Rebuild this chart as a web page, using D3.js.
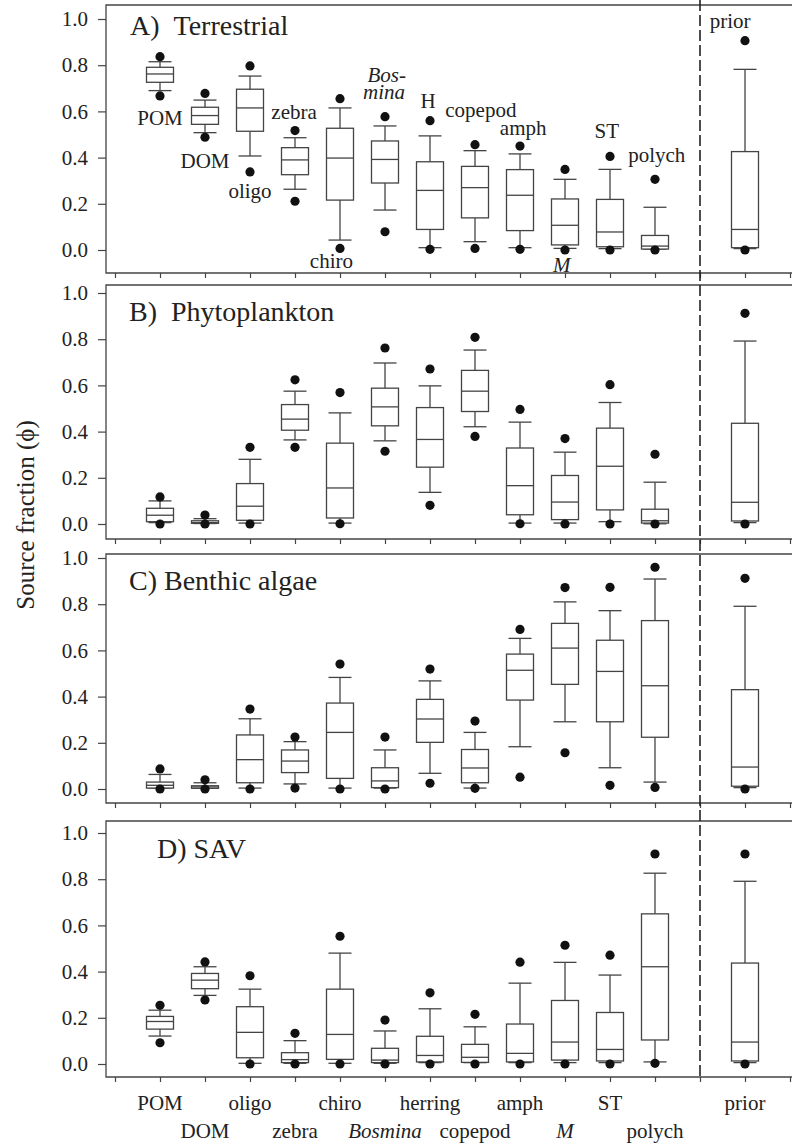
<!DOCTYPE html>
<html>
<head>
<meta charset="utf-8">
<script src="https://cdn.jsdelivr.net/npm/d3@7"></script>
<style>
    body { margin: 0; background: #fff; }
    svg text { font-family: "Liberation Serif", "Times New Roman", serif; fill: #222; }
    .axes path { display: none; }
    .axes line { stroke: #444; stroke-width: 1.2px; }
    .axes text { font-size: 21px; font-family: "Liberation Serif", "Times New Roman", serif; fill: #222; }
</style>
</head>
<body>
<svg id="chart" width="792" height="1144"></svg>
<script>

// categories along x (index 1..12 consumers / sources, prior at 14)
var taxa = ["POM", "DOM", "oligo", "zebra", "chiro", "Bosmina", "herring", "copepod", "amph", "M", "ST", "polych", "prior"];
var taxaPos = [1, 2, 3, 4, 5, 6, 7, 8, 9, 10, 11, 12, 14];
var italicTaxa = ["Bosmina", "M"];
var yTicks = [0, 0.2, 0.4, 0.6, 0.8, 1.0];

// each row: [p5, p10, q1, median, q3, p90, p95]
var terrestrial = [
    [0.667, 0.690, 0.726, 0.762, 0.791, 0.815, 0.837],
    [0.488, 0.508, 0.544, 0.582, 0.618, 0.649, 0.678],
    [0.338, 0.407, 0.514, 0.615, 0.696, 0.753, 0.797],
    [0.211, 0.263, 0.326, 0.390, 0.443, 0.486, 0.517],
    [0.007, 0.043, 0.216, 0.398, 0.527, 0.615, 0.655],
    [0.079, 0.173, 0.290, 0.392, 0.472, 0.537, 0.577],
    [0.003, 0.010, 0.089, 0.258, 0.382, 0.494, 0.560],
    [0.007, 0.036, 0.139, 0.270, 0.362, 0.430, 0.456],
    [0.003, 0.010, 0.084, 0.237, 0.348, 0.416, 0.450],
    [0.000, 0.007, 0.022, 0.107, 0.221, 0.306, 0.349],
    [0.000, 0.006, 0.014, 0.078, 0.219, 0.349, 0.405],
    [0.000, 0.004, 0.004, 0.017, 0.063, 0.185, 0.306],
    [0.000, 0.006, 0.010, 0.089, 0.426, 0.782, 0.906]
];
var phytoplankton = [
    [0.000, 0.006, 0.010, 0.038, 0.068, 0.100, 0.117],
    [0.000, 0.002, 0.003, 0.006, 0.014, 0.023, 0.039],
    [0.000, 0.004, 0.016, 0.077, 0.175, 0.280, 0.332],
    [0.332, 0.364, 0.406, 0.454, 0.517, 0.575, 0.624],
    [0.001, 0.004, 0.026, 0.156, 0.350, 0.481, 0.569],
    [0.315, 0.360, 0.425, 0.507, 0.588, 0.697, 0.762],
    [0.081, 0.137, 0.246, 0.366, 0.504, 0.598, 0.671],
    [0.379, 0.421, 0.487, 0.575, 0.665, 0.753, 0.808],
    [0.001, 0.004, 0.040, 0.166, 0.329, 0.441, 0.496],
    [0.000, 0.004, 0.019, 0.095, 0.210, 0.311, 0.370],
    [0.000, 0.010, 0.061, 0.250, 0.415, 0.526, 0.603],
    [0.000, 0.001, 0.004, 0.014, 0.064, 0.181, 0.302],
    [0.000, 0.006, 0.013, 0.094, 0.436, 0.792, 0.912]
];
var benthic = [
    [0.000, 0.004, 0.004, 0.016, 0.030, 0.063, 0.087],
    [0.000, 0.003, 0.003, 0.009, 0.014, 0.027, 0.040],
    [0.000, 0.004, 0.027, 0.127, 0.234, 0.304, 0.346],
    [0.004, 0.022, 0.071, 0.121, 0.169, 0.205, 0.225],
    [0.000, 0.004, 0.046, 0.245, 0.372, 0.483, 0.541],
    [0.000, 0.004, 0.006, 0.035, 0.092, 0.169, 0.225],
    [0.025, 0.068, 0.202, 0.303, 0.388, 0.468, 0.519],
    [0.003, 0.004, 0.027, 0.091, 0.171, 0.245, 0.294],
    [0.051, 0.183, 0.385, 0.514, 0.584, 0.652, 0.691],
    [0.157, 0.291, 0.453, 0.610, 0.717, 0.810, 0.872],
    [0.016, 0.092, 0.291, 0.509, 0.644, 0.772, 0.873],
    [0.007, 0.030, 0.224, 0.447, 0.729, 0.909, 0.960],
    [0.000, 0.006, 0.012, 0.095, 0.430, 0.791, 0.912]
];
var sav = [
    [0.092, 0.121, 0.151, 0.184, 0.206, 0.233, 0.254],
    [0.277, 0.297, 0.326, 0.363, 0.392, 0.421, 0.442],
    [0.000, 0.003, 0.027, 0.137, 0.248, 0.324, 0.382],
    [0.000, 0.003, 0.006, 0.019, 0.049, 0.101, 0.133],
    [0.000, 0.003, 0.020, 0.128, 0.324, 0.480, 0.553],
    [0.000, 0.003, 0.006, 0.017, 0.068, 0.143, 0.190],
    [0.000, 0.006, 0.009, 0.037, 0.120, 0.239, 0.308],
    [0.000, 0.006, 0.007, 0.029, 0.085, 0.161, 0.215],
    [0.000, 0.006, 0.009, 0.046, 0.173, 0.350, 0.441],
    [0.000, 0.006, 0.017, 0.095, 0.275, 0.440, 0.514],
    [0.000, 0.006, 0.013, 0.063, 0.223, 0.385, 0.471],
    [0.003, 0.009, 0.104, 0.421, 0.650, 0.826, 0.909],
    [0.000, 0.006, 0.013, 0.095, 0.437, 0.791, 0.909]
];

var panelTitles = ["A)\u00a0\u00a0Terrestrial", "B)\u00a0\u00a0Phytoplankton", "C) Benthic algae", "D) SAV"];
var panelData = [terrestrial, phytoplankton, benthic, sav];

// in-panel labels of panel A: [text, x (category units), y (fraction), italic]
var panelALabels = [
    ["POM", 1, 0.541, false],
    ["DOM", 2, 0.355, false],
    ["oligo", 3, 0.225, false],
    ["zebra", 3.98, 0.567, false],
    ["chiro", 4.81, -0.078, false],
    ["Bos-", 6.04, 0.728, true],
    ["mina", 5.98, 0.655, true],
    ["H", 6.96, 0.615, false],
    ["copepod", 8.13, 0.576, false],
    ["amph", 9.07, 0.498, false],
    ["M", 9.93, -0.095, true],
    ["ST", 10.93, 0.485, false],
    ["polych", 12.04, 0.381, false],
    ["prior", 13.67, 0.961, false]
];

// panel geometry (frame top/bottom, pixel of 1.0 and 0.0, title placement)
var panels = [
    {top: 5,   bottom: 273,  y1: 19,  y0: 250,  tx: 130, ty: 35},
    {top: 285, bottom: 539,  y1: 293, y0: 524,  tx: 129, ty: 321},
    {top: 554, bottom: 803,  y1: 558, y0: 789,  tx: 129, ty: 590},
    {top: 821, bottom: 1077, y1: 833, y0: 1064, tx: 157, ty: 858}
];

var svg = d3.select('#chart');
var left = 106, right = 792;
var x = d3.scaleLinear().domain([0, 15]).range([115, 790]);
var boxW = 27, capW = 23, dotR = 4.6;
var lineCol = '#444';
var serif = '"Liberation Serif", "Times New Roman", serif';

panels.forEach(function(p, k){
    var y = d3.scaleLinear().domain([0, 1]).range([p.y0, p.y1]);
    var g = svg.append('g');

    // y axis ticks + labels
    g.append('g')
        .attr('class', 'axes')
        .attr('transform', 'translate(' + left + ',0)')
        .call(d3.axisLeft(y).tickValues(yTicks).tickSize(8).tickPadding(10)
              .tickFormat(d3.format('.1f')))
        .attr('font-family', serif)
        .attr('font-size', 21);

    // x ticks (no labels)
    g.append('g')
        .attr('class', 'axes')
        .attr('transform', 'translate(0,' + p.bottom + ')')
        .call(d3.axisBottom(x).tickValues(d3.range(0, 16)).tickSize(5).tickFormat(''));

    // frame: top, left, bottom
    g.append('path')
        .attr('d', 'M' + right + ',' + p.top + 'H' + left + 'V' + p.bottom + 'H' + right)
        .attr('fill', 'none')
        .attr('stroke', lineCol)
        .attr('stroke-width', 1.3);

    // title
    g.append('text')
        .attr('x', p.tx)
        .attr('y', p.ty)
        .style('font-size', '28px')
        .text(panelTitles[k]);

    // boxes
    var data = panelData[k];
    var box = g.selectAll('.box')
        .data(data)
        .enter().append('g')
        .attr('class', 'box')
        .attr('transform', function(d, i){ return 'translate(' + x(taxaPos[i]) + ',0)'; });

    box.append('line')
        .attr('y1', function(d){ return y(d[1]); })
        .attr('y2', function(d){ return y(d[5]); })
        .attr('stroke', lineCol).attr('stroke-width', 1.3);
    box.append('line')
        .attr('x1', -capW/2).attr('x2', capW/2)
        .attr('y1', function(d){ return y(d[1]); })
        .attr('y2', function(d){ return y(d[1]); })
        .attr('stroke', lineCol).attr('stroke-width', 1.3);
    box.append('line')
        .attr('x1', -capW/2).attr('x2', capW/2)
        .attr('y1', function(d){ return y(d[5]); })
        .attr('y2', function(d){ return y(d[5]); })
        .attr('stroke', lineCol).attr('stroke-width', 1.3);
    box.append('rect')
        .attr('x', -boxW/2)
        .attr('width', boxW)
        .attr('y', function(d){ return y(d[4]); })
        .attr('height', function(d){ return y(d[2]) - y(d[4]); })
        .attr('fill', '#fff')
        .attr('stroke', lineCol).attr('stroke-width', 1.3);
    box.append('line')
        .attr('x1', -boxW/2).attr('x2', boxW/2)
        .attr('y1', function(d){ return y(d[3]); })
        .attr('y2', function(d){ return y(d[3]); })
        .attr('stroke', lineCol).attr('stroke-width', 1.3);
    box.append('circle')
        .attr('r', dotR)
        .attr('cy', function(d){ return y(d[0]); })
        .attr('fill', '#111');
    box.append('circle')
        .attr('r', dotR)
        .attr('cy', function(d){ return y(d[6]); })
        .attr('fill', '#111');

    // labels inside panel A
    if (k == 0){
        g.selectAll('.lab')
            .data(panelALabels)
            .enter().append('text')
            .attr('class', 'lab')
            .attr('x', function(d){ return x(d[1]); })
            .attr('y', function(d){ return y(d[2]); })
            .attr('text-anchor', 'middle')
            .style('font-size', '21px')
            .style('font-style', function(d){ return d[3] ? 'italic' : 'normal'; })
            .text(function(d){ return d[0]; });
    }
});

// category labels under the last panel, staggered in two rows
var last = panels[panels.length - 1];
svg.selectAll('.xlab')
    .data(taxa)
    .enter().append('text')
    .attr('class', 'xlab')
    .attr('x', function(d, i){ return x(taxaPos[i]); })
    .attr('y', function(d, i){ return (i % 2 == 0 || d == 'prior') ? last.bottom + 33 : last.bottom + 61; })
    .attr('text-anchor', 'middle')
    .style('font-size', '21px')
    .style('font-style', function(d){ return italicTaxa.includes(d) ? 'italic' : 'normal'; })
    .text(function(d){ return d; });

// dashed separator for the prior
svg.append('line')
    .attr('x1', x(13)).attr('x2', x(13))
    .attr('y1', 0).attr('y2', last.bottom)
    .attr('stroke', '#222')
    .attr('stroke-width', 1.6)
    .attr('stroke-dasharray', '11,4');

// y axis title
svg.append('text')
    .attr('transform', 'translate(34,515) rotate(-90)')
    .attr('text-anchor', 'middle')
    .style('font-size', '25px')
    .text('Source fraction (\u03d5)');

</script>
</body>
</html>
